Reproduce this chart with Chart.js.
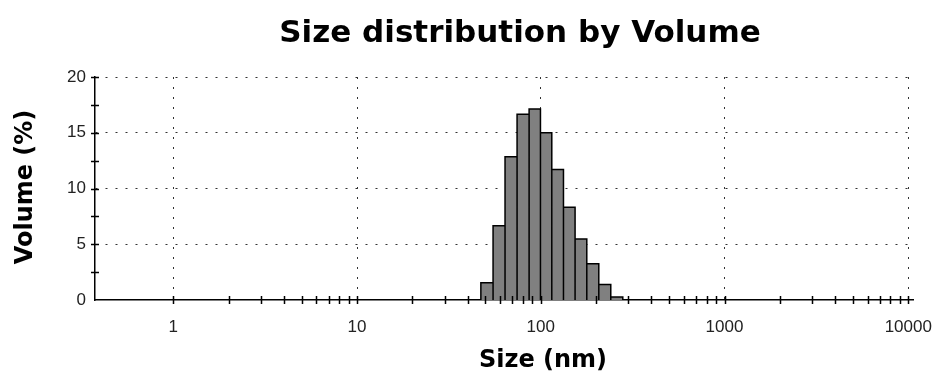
<!DOCTYPE html>
<html>
<head>
<meta charset="utf-8">
<title>Size distribution by Volume</title>
<script src="https://cdn.jsdelivr.net/npm/chart.js@4/dist/chart.umd.min.js"></script>
<style>
  html, body { margin: 0; padding: 0; background: #fff; }
  canvas { display: block; }
</style>
</head>
<body>
<canvas id="chart" width="932" height="374"></canvas>
<script>
// --- Data ---
const binEdges = [47.2, 55.0, 63.9, 74.3, 86.4, 99.6, 114.8, 132.9, 153.7, 178.0, 206.9, 240.4, 279.5]; // nm
const volumePct = [1.55, 6.65, 12.85, 16.67, 17.13, 15.0, 11.71, 8.32, 5.47, 3.24, 1.39, 0.28];
const xTickLabels = ['1', '10', '100', '1000', '10000'];
const yTickLabels = ['0', '5', '10', '15', '20'];

const titleText = 'Size distribution by Volume';
const xTitle = 'Size (nm)';
const yTitle = 'Volume (%)';

// --- Helpers ---
const decades = xTickLabels.map(Number);
const isDecade = v => decades.some(d => Math.abs(v - d) < 1e-6);
const isMajorY = v => v > 0 && yTickLabels.includes(String(v));

// 1..9 per decade, for the small tick marks
function logTicks() {
  const out = [];
  decades.forEach((d, i) => {
    out.push(d);
    if (i < decades.length - 1) for (let k = 2; k <= 9; k++) out.push(d * k);
  });
  return out;
}

// histogram outline: up, across, down for every bin
function outline(edges, heights) {
  const pts = [{ x: edges[0], y: 0 }];
  heights.forEach((h, i) => {
    pts.push({ x: edges[i], y: h }, { x: edges[i + 1], y: h }, { x: edges[i + 1], y: 0 });
  });
  return pts;
}

// --- Tick marks across the axes + titles ---
const frame = {
  id: 'frame',
  afterDraw(chart) {
    const { ctx, chartArea: a, scales: { x, y } } = chart;
    ctx.save();
    ctx.strokeStyle = '#000';
    ctx.lineWidth = 1.5;
    ctx.beginPath();
    x.ticks.forEach(t => {
      const px = Math.round(x.getPixelForValue(t.value)) + 0.5;
      ctx.moveTo(px, a.bottom - 4); ctx.lineTo(px, a.bottom + 4);
    });
    y.ticks.forEach(t => {
      if (t.value <= 0) return;
      const py = Math.round(y.getPixelForValue(t.value)) + 0.5;
      ctx.moveTo(a.left - 4, py); ctx.lineTo(a.left + 4, py);
    });
    ctx.stroke();

    ctx.fillStyle = '#000';
    ctx.textAlign = 'center';
    ctx.textBaseline = 'alphabetic';
    ctx.font = 'bold 31px "DejaVu Sans"';
    ctx.fillText(titleText, 520, 42);
    ctx.font = 'bold 24px "DejaVu Sans"';
    ctx.fillText(xTitle, 543, 367);
    ctx.translate(32, 187);
    ctx.rotate(-Math.PI / 2);
    ctx.fillText(yTitle, 0, 0);
    ctx.restore();
  }
};

// --- Chart ---
new Chart(document.getElementById('chart'), {
  type: 'line',
  data: {
    datasets: [{
      data: outline(binEdges, volumePct),
      fill: 'origin',
      backgroundColor: '#808080',
      borderColor: '#000',
      borderWidth: 1.5,
      borderJoinStyle: 'miter',
      pointRadius: 0,
      tension: 0
    }]
  },
  options: {
    responsive: false,
    animation: false,
    layout: { padding: { top: 77, right: 19, left: 0, bottom: 0 } },
    plugins: {
      legend: { display: false },
      tooltip: { enabled: false },
      title: { display: false }
    },
    scales: {
      x: {
        type: 'logarithmic',
        min: 0.375,
        max: 10610,
        afterBuildTicks: s => { s.ticks = logTicks().map(v => ({ value: v })); },
        afterFit: s => { s.height = 74; s.paddingLeft = 0; s.paddingRight = 0; },
        ticks: {
          autoSkip: false,
          maxRotation: 0,
          padding: 17,
          color: '#222',
          font: { family: 'Liberation Sans', size: 17 },
          callback: v => isDecade(v) ? String(v) : ''
        },
        grid: {
          drawTicks: false,
          lineWidth: 1,
          color: c => c.tick && isDecade(c.tick.value) ? '#333' : 'transparent'
        },
        border: { color: '#000', width: 1.5, dash: [2, 8] }
      },
      y: {
        min: 0,
        max: 20,
        afterFit: s => { s.width = 95; s.paddingTop = 0; s.paddingBottom = 0; },
        ticks: {
          stepSize: 2.5,
          autoSkip: false,
          padding: 9,
          color: '#222',
          font: { family: 'Liberation Sans', size: 17 },
          callback: v => yTickLabels.includes(String(v)) ? String(v) : ''
        },
        grid: {
          drawTicks: false,
          lineWidth: 1,
          color: c => c.tick && isMajorY(c.tick.value) ? '#333' : 'transparent'
        },
        border: { color: '#000', width: 1.5, dash: [2, 8] }
      }
    }
  },
  plugins: [frame]
});
</script>
</body>
</html>
